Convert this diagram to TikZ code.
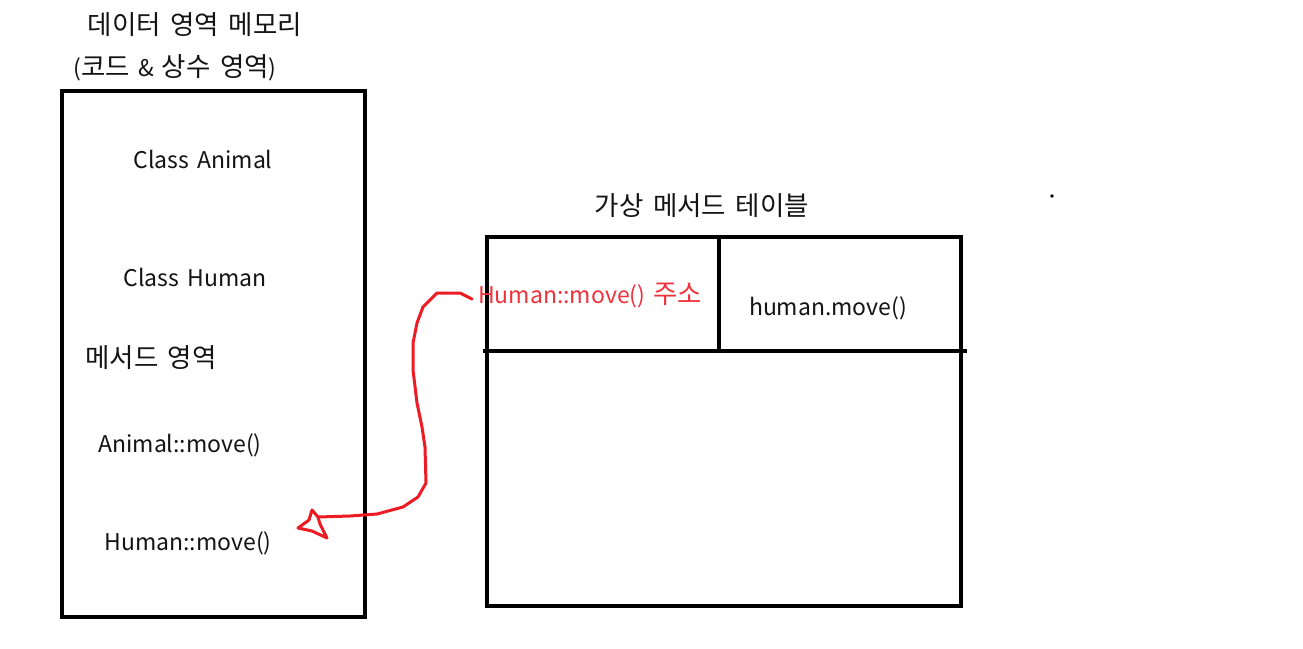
\documentclass[tikz,border=0pt]{standalone}
\usepackage{fontspec}
\setmainfont[WordSpace=1.6]{Noto Sans CJK KR}
\definecolor{pred}{RGB}{237,28,36}
\definecolor{tred}{RGB}{240,50,60}
\definecolor{ink}{RGB}{20,20,20}
\newcommand\krs[1]{{\fontsize{26.5}{28}\selectfont #1}}
\begin{document}
\begin{tikzpicture}[x=1pt,y=-1pt,
  lbl/.style={inner sep=0pt,font=\fontsize{23}{26}\selectfont,text=ink},
  boxline/.style={line width=4.2pt,line cap=rect},
  redline/.style={draw=pred,line width=3pt,line join=round,line cap=round}]
\useasboundingbox[fill=white] (0,0) rectangle (1303,648);
% left memory box
\draw[boxline] (62,91) rectangle (365,617);
% right table
\draw[boxline] (487,237) rectangle (961,606);
\draw[boxline] (485,351) -- (965,351);
\draw[boxline] (719,237) -- (719,351);
\fill (1052,196) circle (1.8);
% labels
\node[lbl] (t1) at (195,25) {\krs{데이터 영역 메모리}};
\node[lbl] (t2) at (175,68) {(\krs{코드} \& \krs{상수 영역})};
\node[lbl] (ca) at (203,159) {Class Animal};
\node[lbl] (ch) at (195,277) {Class Human};
\node[lbl] (ma) at (151,358) {\krs{메서드 영역}};
\node[lbl] (am) at (180,445) {Animal::move()};
\node[lbl] (hm) at (188,543) {Human::move()};
\node[lbl] (vt) at (702,206) {\krs{가상 메서드 테이블}};
\node[lbl,text=tred,anchor=west] (addr) at (478,296) {Human::move() \krs{주소}};
\node[lbl] (hmc) at (828,308) {human.move()};
% red hand-drawn connector
\coordinate (tip) at (318,517);
\draw[redline] (addr.west) ++(-6,3) -- (460,293) -- (437,293) -- (423,307) -- (417,323) -- (413,343)
  -- (413,370) -- (417,403) -- (422,427) -- (425,447) -- (426,483) -- (418,497)
  -- (403,507) -- (377,514) -- (350,516) -- (tip);
\draw[redline] (tip) -- (312,510) -- (309,520) -- (298,528) -- (312,531) -- (327,538) -- (320,524) -- cycle;
\end{tikzpicture}
\end{document}
